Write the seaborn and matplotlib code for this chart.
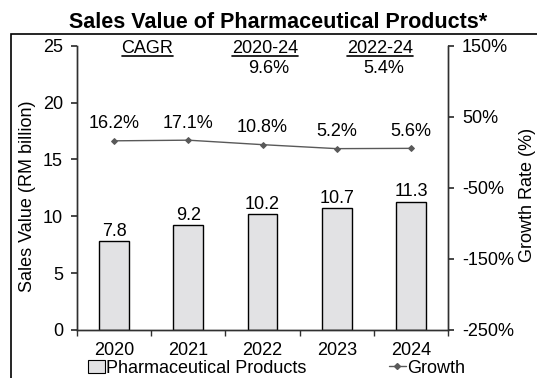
import matplotlib
matplotlib.use("Agg")
import matplotlib.pyplot as plt
from matplotlib.patches import Rectangle, Patch
from matplotlib.lines import Line2D
import seaborn as sns
import pandas as pd

years = ["2020", "2021", "2022", "2023", "2024"]
sales = [7.8, 9.2, 10.2, 10.7, 11.3]
growth = [16.2, 17.1, 10.8, 5.2, 5.6]
growth_labels = ["16.2%", "17.1%", "10.8%", "5.2%", "5.6%"]
right_ticks = [150, 50, -50, -150, -250]
cagr_heads = ["CAGR", "2020-24", "2022-24"]
cagr_values = ["", "9.6%", "5.4%"]

sns.set_theme(style="white")
plt.rcParams["font.family"] = ["Liberation Sans", "DejaVu Sans"]
plt.rcParams["text.color"] = "black"
plt.rcParams["xtick.color"] = "black"
plt.rcParams["ytick.color"] = "black"
plt.rcParams["axes.labelcolor"] = "black"
FS = 13
BAR_FC = "#e2e2e4"
LINE_C = "#595959"
SPINE_C = "#303030"

df = pd.DataFrame({"Year": years, "Sales": sales, "Growth": growth})

fig = plt.figure(figsize=(5.37, 3.78), dpi=100)
ax = fig.add_axes([0.1434, 0.127, 0.6909, 0.752])

sns.barplot(data=df, x="Year", y="Sales", ax=ax, color=BAR_FC,
            edgecolor="black", linewidth=1.0, width=0.40, saturation=1)
ax.bar_label(ax.containers[0], labels=[f"{v:.1f}" for v in sales],
             padding=1, fontsize=FS)

ax.set_ylim(0, 25)
ax.set_yticks([0, 5, 10, 15, 20, 25])
ax.set_xlim(-0.5, 4.5)
ax.set_xticks(range(len(years)))
ax.set_xticklabels(years)
ax.set_xticks([i - 0.5 for i in range(len(years) + 1)], minor=True)
ax.tick_params(axis="x", which="major", length=0, labelsize=FS, pad=9)
ax.tick_params(axis="x", which="minor", length=4, direction="out",
               color=SPINE_C, bottom=True)
ax.tick_params(axis="y", length=4, direction="out", color=SPINE_C,
               labelsize=FS, left=True, pad=6)
ax.set_xlabel("")
ax.set_ylabel("Sales Value (RM billion)", fontsize=FS, va="center")
ax.yaxis.set_label_coords(-0.133, 0.472)

ax2 = ax.twinx()
sns.pointplot(data=df, x="Year", y="Growth", ax=ax2, color=LINE_C,
              markers="D", markersize=3, linewidth=1.0)
ax2.set_ylim(-250, 150)
ax2.set_yticks(right_ticks)
ax2.set_yticklabels([f"{t}%" for t in right_ticks])
ax2.tick_params(axis="y", length=4, direction="out", color=SPINE_C,
                labelsize=FS, right=True, pad=6)
ax2.set_ylabel("Growth Rate (%)", fontsize=FS, va="center")
ax2.yaxis.set_label_coords(1.213, 0.475)
ax2.set_xlim(-0.5, 4.5)

for i, (g, lab) in enumerate(zip(growth, growth_labels)):
    ax2.annotate(lab, (i, g), xytext=(0, 6), textcoords="offset points",
                 ha="center", va="bottom", fontsize=FS)

for a in (ax, ax2):
    a.spines["top"].set_visible(False)
    for s in ("left", "right", "bottom"):
        a.spines[s].set_color(SPINE_C)
        a.spines[s].set_linewidth(1.0)

# CAGR header block
cagr_x = [0.45, 2.03, 3.58]
head_texts = []
for x, h, v in zip(cagr_x, cagr_heads, cagr_values):
    t = ax.text(x, 24.8, h, ha="center", va="center", fontsize=FS)
    head_texts.append(t)
    if v:
        ax.text(x + 0.05, 23.0, v, ha="center", va="center", fontsize=FS)

fig.suptitle("Sales Value of Pharmaceutical Products*", fontsize=15.5,
             fontweight="bold", x=0.518, y=0.968)

# outer frame, cut off at the right and bottom edges
fig.patches.append(Rectangle((11 / 537, -0.05), 1.1, 1 - 34 / 378 + 0.05,
                             transform=fig.transFigure, fill=False,
                             edgecolor="black", linewidth=1.2))

handles = [Patch(facecolor=BAR_FC, edgecolor="black", linewidth=0.8),
           Line2D([], [], color=LINE_C, marker="D", markersize=3, linewidth=1.0)]
fig.legend(handles, ["Pharmaceutical Products", "Growth"], ncol=2,
           loc="center left", bbox_to_anchor=(0.1639, 0.026), frameon=False,
           fontsize=FS, handlelength=0.95, handleheight=0.7,
           handletextpad=0.05, columnspacing=4.55, borderaxespad=0,
           borderpad=0)

# underline the header words
fig.canvas.draw()
renderer = fig.canvas.get_renderer()
for t in head_texts:
    bb = t.get_window_extent(renderer)
    y = bb.y0 + 1
    fig.add_artist(Line2D([bb.x0 / fig.bbox.width, bb.x1 / fig.bbox.width],
                          [y / fig.bbox.height, y / fig.bbox.height],
                          transform=fig.transFigure, color="black",
                          linewidth=1.2))

fig.savefig("out.png", dpi=100)
